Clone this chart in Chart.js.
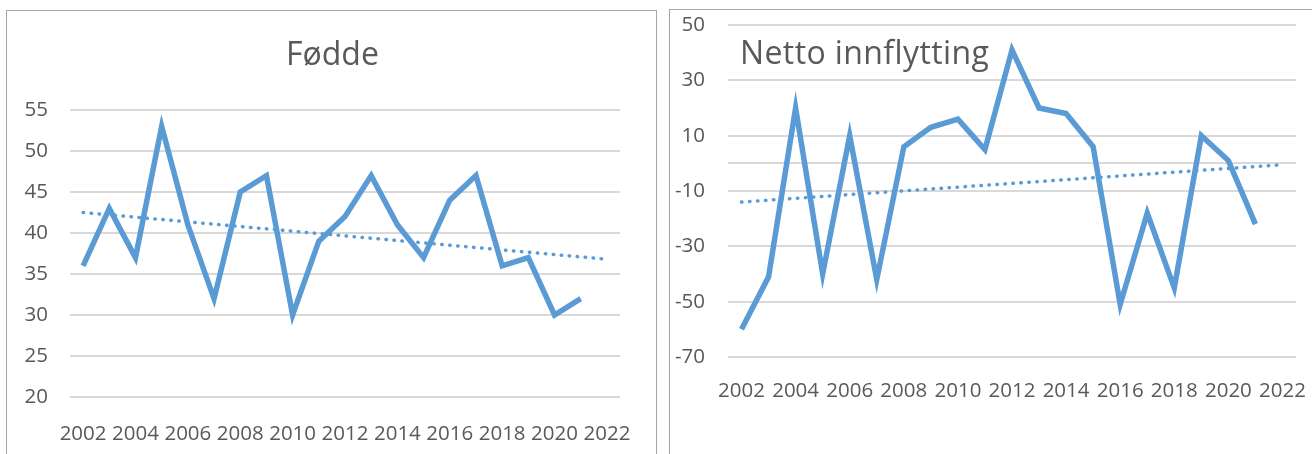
<!DOCTYPE html>
<html>
<head>
<meta charset="utf-8">
<script src="https://cdn.jsdelivr.net/npm/chart.js@4.4.1/dist/chart.umd.min.js"></script>
<style>
  body { margin: 0; background: #fff; width: 1312px; height: 454px; overflow: hidden; position: relative; font-family: 'Open Sans', sans-serif; }
  .box { position: absolute; border: 1px solid #a6a6a6; box-sizing: border-box; }
  .title { position: absolute; font-size: 32px; line-height: 1; color: #595959; white-space: nowrap; }
  canvas { position: absolute; }
</style>
</head>
<body>
<div class="box" style="left:6px; top:10px; width:651px; height:460px;"></div>
<div class="box" style="left:669px; top:9px; width:660px; height:460px;"></div>
<canvas id="fodde" width="651" height="444" style="left:6px; top:10px;"></canvas>
<canvas id="netto" width="642" height="445" style="left:670px; top:9px;"></canvas>
<div class="title" style="left:286px; top:37px;">Fødde</div>
<div class="title" style="left:740px; top:36px; letter-spacing:0.4px;">Netto innflytting</div>
<script>
/*
DATA
*/
const years = ['2002', '2003', '2004', '2005', '2006', '2007', '2008', '2009', '2010', '2011',
  '2012', '2013', '2014', '2015', '2016', '2017', '2018', '2019', '2020', '2021', '2022'];

const fodde = [36, 43, 37, 53, 41, 32, 45, 47, 30, 39, 42, 47, 41, 37, 44, 47, 36, 37, 30, 32];
const foddeTrend = [42.5, 36.8];
const foddeTicks = [20, 25, 30, 35, 40, 45, 50, 55];

const netto = [-60, -41, 20, -40, 10, -42, 6, 13, 16, 5, 41, 20, 18, 6, -51, -18, -45, 10, 1, -22];
const nettoTrend = [-14, -0.5];
// 0 only gets a line (category axis), no label
const nettoTicks = [-70, -50, -30, -10, 0, 10, 30, 50];

/*
STYLE VARS
*/
const BLUE = '#5b9bd5';
const TEXT = '#595959';
const GRID = '#d9d9d9';
const tickFont = { family: 'Open Sans', size: 20.5 };

// trend only has values at first and last year, spanGaps joins them
function trendData(ends) {
  let arr = years.map(() => null);
  arr[0] = ends[0];
  arr[arr.length - 1] = ends[1];
  return arr;
}

// drop the label padding the axes ask for, layout.padding decides the plot area
function noPad(s) {
  s.paddingTop = 0;
  s.paddingBottom = 0;
  s.paddingLeft = 0;
  s.paddingRight = 0;
}

function makeChart(canvas, values, trend, yTicks, opts) {
  return new Chart(canvas, {
    type: 'line',
    data: {
      labels: years,
      datasets: [{
        data: trendData(trend),
        borderColor: BLUE,
        borderWidth: 3.5,
        borderDash: [0.5, 7.5],
        borderCapStyle: 'round',
        pointRadius: 0,
        spanGaps: true,
        fill: false
      }, {
        data: values,
        borderColor: BLUE,
        borderWidth: 5.5,
        borderJoinStyle: 'miter',
        pointRadius: 0,
        tension: 0,
        fill: false
      }]
    },
    options: {
      responsive: false,
      animation: false,
      layout: { padding: opts.padding },
      plugins: {
        legend: { display: false },
        tooltip: { enabled: false },
        title: { display: false }
      },
      scales: {
        x: {
          offset: true,
          grid: { display: false, drawTicks: false },
          border: { display: false },
          ticks: {
            color: TEXT,
            font: tickFont,
            autoSkip: false,
            maxRotation: 0,
            padding: opts.xPad,
            callback: (v, i) => i % 2 === 0 ? years[i] : ''
          },
          afterFit: (s) => { s.height = opts.xHeight; noPad(s); }
        },
        y: {
          min: yTicks[0],
          max: yTicks[yTicks.length - 1],
          grid: { color: GRID, lineWidth: 2, drawTicks: false },
          border: { display: false },
          ticks: {
            color: TEXT,
            font: tickFont,
            padding: opts.yPad,
            callback: (v) => v === 0 && opts.hideZero ? '' : v
          },
          afterBuildTicks: (s) => { s.ticks = yTicks.map(v => ({ value: v })); },
          afterFit: (s) => { s.width = opts.yWidth; noPad(s); }
        }
      }
    }
  });
}

let foddeChart = makeChart(document.getElementById('fodde'), fodde, foddeTrend, foddeTicks, {
  padding: { top: 100, right: 37, left: 0, bottom: 0 },
  xHeight: 57, xPad: 25, yWidth: 64, yPad: 22, hideZero: false
});

let nettoChart = makeChart(document.getElementById('netto'), netto, nettoTrend, nettoTicks, {
  padding: { top: 16, right: 16, left: 0, bottom: 0 },
  xHeight: 97, xPad: 22, yWidth: 58, yPad: 23, hideZero: true
});
</script>
</body>
</html>
